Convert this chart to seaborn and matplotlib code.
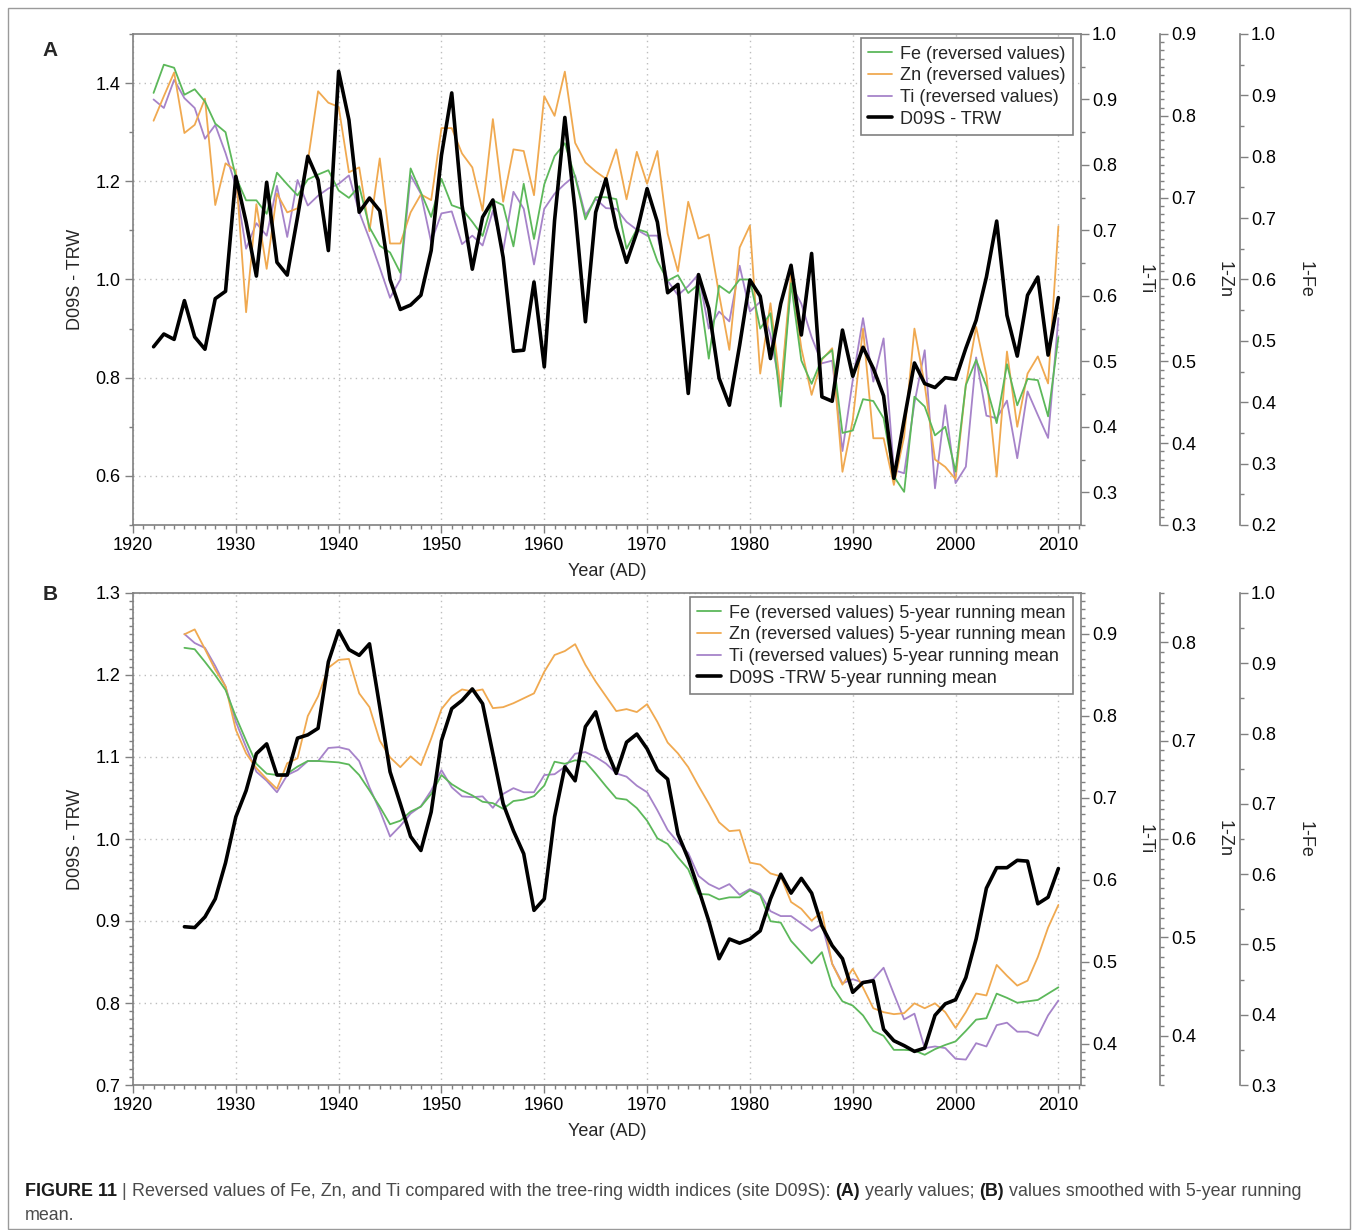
import numpy as np
import pandas as pd
import matplotlib
matplotlib.use("Agg")
import matplotlib.pyplot as plt
from matplotlib.ticker import MultipleLocator, FormatStrFormatter
from matplotlib.patches import Rectangle
import seaborn as sns

# ---------------- data ----------------
years_a = list(range(1922, 2011))
trw_a = [0.863, 0.889, 0.878, 0.957, 0.883, 0.858, 0.961, 0.976, 1.210, 1.117,
         1.007, 1.198, 1.035, 1.009, 1.127, 1.251, 1.203, 1.059, 1.424, 1.325,
         1.137, 1.166, 1.140, 1.000, 0.939, 0.948, 0.968, 1.059, 1.253, 1.380,
         1.151, 1.021, 1.127, 1.162, 1.045, 0.854, 0.856, 0.995, 0.822, 1.120,
         1.330, 1.140, 0.914, 1.137, 1.205, 1.106, 1.035, 1.096, 1.185, 1.117,
         0.973, 0.990, 0.768, 1.010, 0.941, 0.799, 0.744, 0.866, 0.999, 0.966,
         0.839, 0.951, 1.029, 0.887, 1.053, 0.761, 0.752, 0.897, 0.803, 0.862,
         0.819, 0.763, 0.595, 0.714, 0.830, 0.788, 0.780, 0.800, 0.797, 0.860,
         0.917, 1.005, 1.119, 0.927, 0.844, 0.968, 1.005, 0.846, 0.963]
fe_a = [0.904, 0.950, 0.945, 0.901, 0.910, 0.890, 0.854, 0.840, 0.767, 0.729,
        0.729, 0.707, 0.774, 0.755, 0.737, 0.763, 0.771, 0.778, 0.745, 0.733,
        0.752, 0.685, 0.655, 0.644, 0.611, 0.781, 0.742, 0.702, 0.764, 0.721,
        0.715, 0.694, 0.671, 0.729, 0.721, 0.654, 0.756, 0.666, 0.755, 0.801,
        0.822, 0.767, 0.698, 0.734, 0.734, 0.731, 0.650, 0.682, 0.677, 0.630,
        0.598, 0.607, 0.578, 0.592, 0.471, 0.590, 0.578, 0.600, 0.600, 0.520,
        0.545, 0.393, 0.594, 0.468, 0.430, 0.471, 0.485, 0.350, 0.354, 0.405,
        0.402, 0.374, 0.279, 0.254, 0.409, 0.393, 0.346, 0.360, 0.287, 0.428,
        0.469, 0.426, 0.366, 0.462, 0.395, 0.438, 0.436, 0.377, 0.506]
zn_a = [0.794, 0.824, 0.853, 0.779, 0.789, 0.821, 0.691, 0.742, 0.733, 0.560,
        0.692, 0.613, 0.705, 0.682, 0.687, 0.744, 0.830, 0.816, 0.811, 0.731,
        0.737, 0.659, 0.748, 0.644, 0.644, 0.682, 0.704, 0.697, 0.785, 0.785,
        0.754, 0.737, 0.684, 0.796, 0.695, 0.759, 0.757, 0.703, 0.824, 0.800,
        0.854, 0.767, 0.743, 0.732, 0.723, 0.759, 0.698, 0.756, 0.717, 0.757,
        0.656, 0.610, 0.695, 0.650, 0.655, 0.582, 0.514, 0.639, 0.666, 0.485,
        0.571, 0.465, 0.607, 0.516, 0.459, 0.502, 0.516, 0.365, 0.428, 0.540,
        0.406, 0.406, 0.349, 0.408, 0.540, 0.471, 0.380, 0.371, 0.356, 0.471,
        0.542, 0.483, 0.359, 0.512, 0.420, 0.485, 0.506, 0.473, 0.665]
ti_a = [0.900, 0.887, 0.930, 0.902, 0.887, 0.840, 0.861, 0.818, 0.768, 0.672,
        0.711, 0.692, 0.768, 0.690, 0.777, 0.738, 0.753, 0.764, 0.771, 0.784,
        0.728, 0.687, 0.643, 0.597, 0.625, 0.784, 0.756, 0.682, 0.726, 0.729,
        0.679, 0.692, 0.677, 0.730, 0.669, 0.759, 0.733, 0.648, 0.733, 0.756,
        0.771, 0.784, 0.723, 0.748, 0.734, 0.733, 0.713, 0.701, 0.692, 0.692,
        0.623, 0.601, 0.615, 0.633, 0.550, 0.576, 0.561, 0.646, 0.576, 0.591,
        0.540, 0.454, 0.618, 0.588, 0.537, 0.497, 0.501, 0.363, 0.471, 0.566,
        0.469, 0.535, 0.334, 0.329, 0.436, 0.517, 0.306, 0.433, 0.314, 0.339,
        0.506, 0.417, 0.413, 0.440, 0.352, 0.454, 0.418, 0.383, 0.566]

years_b = list(range(1925, 2011))
trw_b = [0.893, 0.892, 0.905, 0.927, 0.971, 1.027, 1.059, 1.104, 1.116, 1.078,
         1.078, 1.123, 1.127, 1.135, 1.216, 1.254, 1.231, 1.224, 1.238, 1.161,
         1.082, 1.043, 1.003, 0.986, 1.033, 1.120, 1.159, 1.169, 1.183, 1.165,
         1.104, 1.043, 1.010, 0.982, 0.913, 0.927, 1.027, 1.088, 1.071, 1.137,
         1.155, 1.110, 1.080, 1.118, 1.128, 1.110, 1.084, 1.073, 1.006, 0.976,
         0.939, 0.900, 0.854, 0.878, 0.873, 0.878, 0.888, 0.927, 0.957, 0.934,
         0.952, 0.934, 0.894, 0.870, 0.854, 0.813, 0.825, 0.827, 0.768, 0.754,
         0.748, 0.741, 0.745, 0.785, 0.799, 0.804, 0.831, 0.878, 0.940, 0.965,
         0.965, 0.974, 0.973, 0.921, 0.929, 0.964]
fe_b = [0.922, 0.920, 0.902, 0.883, 0.862, 0.824, 0.790, 0.757, 0.743, 0.741,
        0.743, 0.753, 0.761, 0.761, 0.760, 0.759, 0.756, 0.741, 0.719, 0.696,
        0.671, 0.676, 0.689, 0.696, 0.714, 0.741, 0.728, 0.719, 0.712, 0.703,
        0.701, 0.693, 0.704, 0.706, 0.711, 0.726, 0.760, 0.757, 0.762, 0.760,
        0.743, 0.725, 0.708, 0.706, 0.694, 0.676, 0.651, 0.643, 0.624, 0.607,
        0.572, 0.571, 0.564, 0.567, 0.567, 0.577, 0.570, 0.533, 0.531, 0.505,
        0.489, 0.473, 0.489, 0.441, 0.419, 0.413, 0.399, 0.377, 0.370, 0.350,
        0.350, 0.349, 0.343, 0.351, 0.357, 0.362, 0.377, 0.393, 0.395, 0.430,
        0.424, 0.417, 0.419, 0.421, 0.430, 0.439]
zn_b = [0.808, 0.813, 0.793, 0.772, 0.755, 0.711, 0.687, 0.672, 0.661, 0.651,
        0.677, 0.682, 0.725, 0.745, 0.774, 0.782, 0.783, 0.748, 0.734, 0.700,
        0.683, 0.673, 0.684, 0.675, 0.702, 0.732, 0.745, 0.752, 0.750, 0.752,
        0.733, 0.734, 0.738, 0.743, 0.748, 0.770, 0.787, 0.791, 0.798, 0.777,
        0.760, 0.745, 0.730, 0.732, 0.729, 0.737, 0.719, 0.698, 0.687, 0.673,
        0.654, 0.636, 0.617, 0.608, 0.609, 0.576, 0.574, 0.565, 0.562, 0.536,
        0.529, 0.517, 0.526, 0.473, 0.452, 0.468, 0.449, 0.428, 0.424, 0.422,
        0.423, 0.433, 0.428, 0.433, 0.424, 0.408, 0.424, 0.443, 0.441, 0.472,
        0.461, 0.451, 0.456, 0.480, 0.510, 0.533]
ti_b = [0.900, 0.889, 0.883, 0.861, 0.836, 0.793, 0.762, 0.732, 0.721, 0.707,
        0.728, 0.734, 0.745, 0.745, 0.761, 0.762, 0.759, 0.745, 0.713, 0.685,
        0.653, 0.666, 0.681, 0.690, 0.709, 0.734, 0.713, 0.702, 0.701, 0.702,
        0.688, 0.705, 0.712, 0.707, 0.707, 0.728, 0.729, 0.738, 0.754, 0.756,
        0.750, 0.742, 0.730, 0.726, 0.715, 0.707, 0.685, 0.661, 0.646, 0.633,
        0.605, 0.595, 0.589, 0.595, 0.582, 0.589, 0.583, 0.562, 0.556, 0.556,
        0.547, 0.538, 0.546, 0.498, 0.474, 0.479, 0.475, 0.479, 0.493, 0.461,
        0.430, 0.437, 0.395, 0.397, 0.395, 0.382, 0.381, 0.401, 0.397, 0.423,
        0.426, 0.415, 0.415, 0.410, 0.435, 0.453]

labels_a = ["Fe (reversed values)", "Zn (reversed values)",
            "Ti (reversed values)", "D09S - TRW"]
labels_b = ["Fe (reversed values) 5-year running mean",
            "Zn (reversed values) 5-year running mean",
            "Ti (reversed values) 5-year running mean",
            "D09S -TRW 5-year running mean"]

# ---------------- style ----------------
sns.set_theme(style="ticks")
plt.rcParams["font.family"] = ["Liberation Sans", "DejaVu Sans"]
plt.rcParams["axes.unicode_minus"] = False

SPINE = "#808080"
GRID = "#bdbdbd"
C_FE = "#5cb85a"
C_ZN = "#f0a950"
C_TI = "#a683c9"
C_TRW = "black"

W, H = 1358, 1230
fig = plt.figure(figsize=(W / 100, H / 100), dpi=100)


def fx(px):
    return px / W


def fy(py):
    return 1 - py / H


def build_panel(top, bottom, ylim, ymaj, ymin, right_specs, years,
                fe, zn, ti, trw, xlabel_off):
    L, R = 133, 1081
    ax = fig.add_axes([fx(L), fy(bottom), (R - L) / W, (bottom - top) / H])
    ax.set_xlim(1920, 2012.2)
    ax.set_ylim(*ylim)
    ax.xaxis.set_major_locator(MultipleLocator(10))
    ax.xaxis.set_minor_locator(MultipleLocator(1))
    ax.yaxis.set_major_locator(MultipleLocator(ymaj))
    ax.yaxis.set_minor_locator(MultipleLocator(ymin))
    ax.yaxis.set_major_formatter(FormatStrFormatter("%.1f"))
    ax.grid(True, which="major", linestyle=(0, (1, 3)), color=GRID, lw=1)
    for s in ["left", "top", "bottom"]:
        ax.spines[s].set_color(SPINE)
        ax.spines[s].set_linewidth(1.2)
    ax.spines["right"].set_visible(False)
    ax.tick_params(which="both", direction="out", color=SPINE, width=1,
                   labelsize=13, labelcolor="black")
    ax.tick_params(which="major", length=6, pad=3)
    ax.tick_params(which="minor", length=3)
    ax.set_ylabel("D09S - TRW", fontsize=13, va="center")
    ax.yaxis.set_label_coords((75 - L) / (R - L), 0.5)
    ax.set_xlabel("Year (AD)", fontsize=13, va="center")
    ax.xaxis.set_label_coords(0.5, -xlabel_off / (bottom - top))

    series = {"Ti": (ti, C_TI), "Zn": (zn, C_ZN), "Fe": (fe, C_FE)}
    handles = {}
    for (name, lab, lim, maj, mnr, pos, labx) in right_specs:
        t = ax.twinx()
        t.set_ylim(*lim)
        for s in ["left", "top", "bottom"]:
            t.spines[s].set_visible(False)
        t.spines["right"].set_position(("axes", (pos - L) / (R - L)))
        t.spines["right"].set_color(SPINE)
        t.spines["right"].set_linewidth(1.2)
        t.yaxis.set_major_locator(MultipleLocator(maj))
        t.yaxis.set_minor_locator(MultipleLocator(mnr))
        t.yaxis.set_major_formatter(FormatStrFormatter("%.1f"))
        t.tick_params(which="both", direction="out", color=SPINE, width=1,
                      labelsize=13, labelcolor="black")
        t.tick_params(which="major", length=6, pad=2)
        t.tick_params(which="minor", length=3)
        t.set_ylabel(lab, fontsize=13, rotation=270, va="center", ha="center",
                     rotation_mode="default")
        t.yaxis.set_label_coords((labx - L) / (R - L), 0.5)
        vals, col = series[name]
        sns.lineplot(x=years, y=vals, ax=t, color=col, lw=1.3, legend=False)
        handles[name] = t.get_lines()[-1]

    tr = ax.twinx()
    tr.set_ylim(*ylim)
    tr.set_yticks([])
    for s in tr.spines.values():
        s.set_visible(False)
    sns.lineplot(x=years, y=trw, ax=tr, color=C_TRW, lw=2.6, legend=False)
    handles["TRW"] = tr.get_lines()[-1]
    tr.set_ylabel("")
    return ax, tr, [handles["Fe"], handles["Zn"], handles["Ti"], handles["TRW"]]


def add_legend(tr, handles, labels, height):
    leg = tr.legend(handles, labels, loc="upper right",
                    bbox_to_anchor=(1 - 8 / 948, 1 - 4 / height),
                    borderaxespad=0, fontsize=13, frameon=True, fancybox=False,
                    edgecolor=SPINE, framealpha=1, handlelength=1.3,
                    handletextpad=0.45, labelspacing=0.26, borderpad=0.42)
    leg.get_frame().set_linewidth(1.2)
    return leg


# Panel A
specs_a = [("Ti", "1-Ti", (0.25, 1.0), 0.1, 0.05, 1081, 1145),
           ("Zn", "1-Zn", (0.3, 0.9), 0.1, 0.01, 1160, 1224),
           ("Fe", "1-Fe", (0.2, 1.0), 0.1, 0.05, 1240, 1305)]
axA, trA, hA = build_panel(34, 525, (0.5, 1.5), 0.2, 0.1, specs_a, years_a,
                           fe_a, zn_a, ti_a, trw_a, 47)
add_legend(trA, hA, labels_a, 491)

# Panel B
specs_b = [("Ti", "1-Ti", (0.35, 0.95), 0.1, 0.01, 1081, 1145),
           ("Zn", "1-Zn", (0.35, 0.85), 0.1, 0.01, 1160, 1224),
           ("Fe", "1-Fe", (0.3, 1.0), 0.1, 0.05, 1240, 1305)]
axB, trB, hB = build_panel(593, 1085, (0.7, 1.3), 0.1, 0.01, specs_b, years_b,
                           fe_b, zn_b, ti_b, trw_b, 47)
add_legend(trB, hB, labels_b, 492)

# panel letters
fig.text(fx(50), fy(50), "A", fontsize=15, weight="bold", ha="center", va="center")
fig.text(fx(50), fy(595), "B", fontsize=15, weight="bold", ha="center", va="center")

# outer frame
fig.add_artist(Rectangle((fx(8), fy(1229)), (1350 - 8) / W, (1229 - 8) / H,
                         transform=fig.transFigure, fill=False,
                         edgecolor="#9a9a9a", lw=1.0))

# caption
cap_parts = [("FIGURE 11", "bold", "#1a1a1a"), (" | ", "normal", "#555555"),
             ("Reversed values of Fe, Zn, and Ti compared with the tree-ring width indices (site D09S): ", "normal", "#4a4a4a"),
             ("(A)", "bold", "#1a1a1a"), (" yearly values; ", "normal", "#4a4a4a"),
             ("(B)", "bold", "#1a1a1a"), (" values smoothed with 5-year running", "normal", "#4a4a4a")]
CAP_FS = 12.9
prev = fig.text(fx(25), fy(1192), cap_parts[0][0], fontsize=CAP_FS,
                weight=cap_parts[0][1], color=cap_parts[0][2],
                va="center", ha="left")
for txt, wt, col in cap_parts[1:]:
    prev = axB.annotate(txt, xy=(1, 0.5), xycoords=prev, fontsize=CAP_FS,
                        weight=wt, color=col, va="center", ha="left",
                        annotation_clip=False)
fig.text(fx(25), fy(1216), "mean.", fontsize=CAP_FS, color="#4a4a4a",
         va="center", ha="left")

fig.savefig("out.png", dpi=100)
